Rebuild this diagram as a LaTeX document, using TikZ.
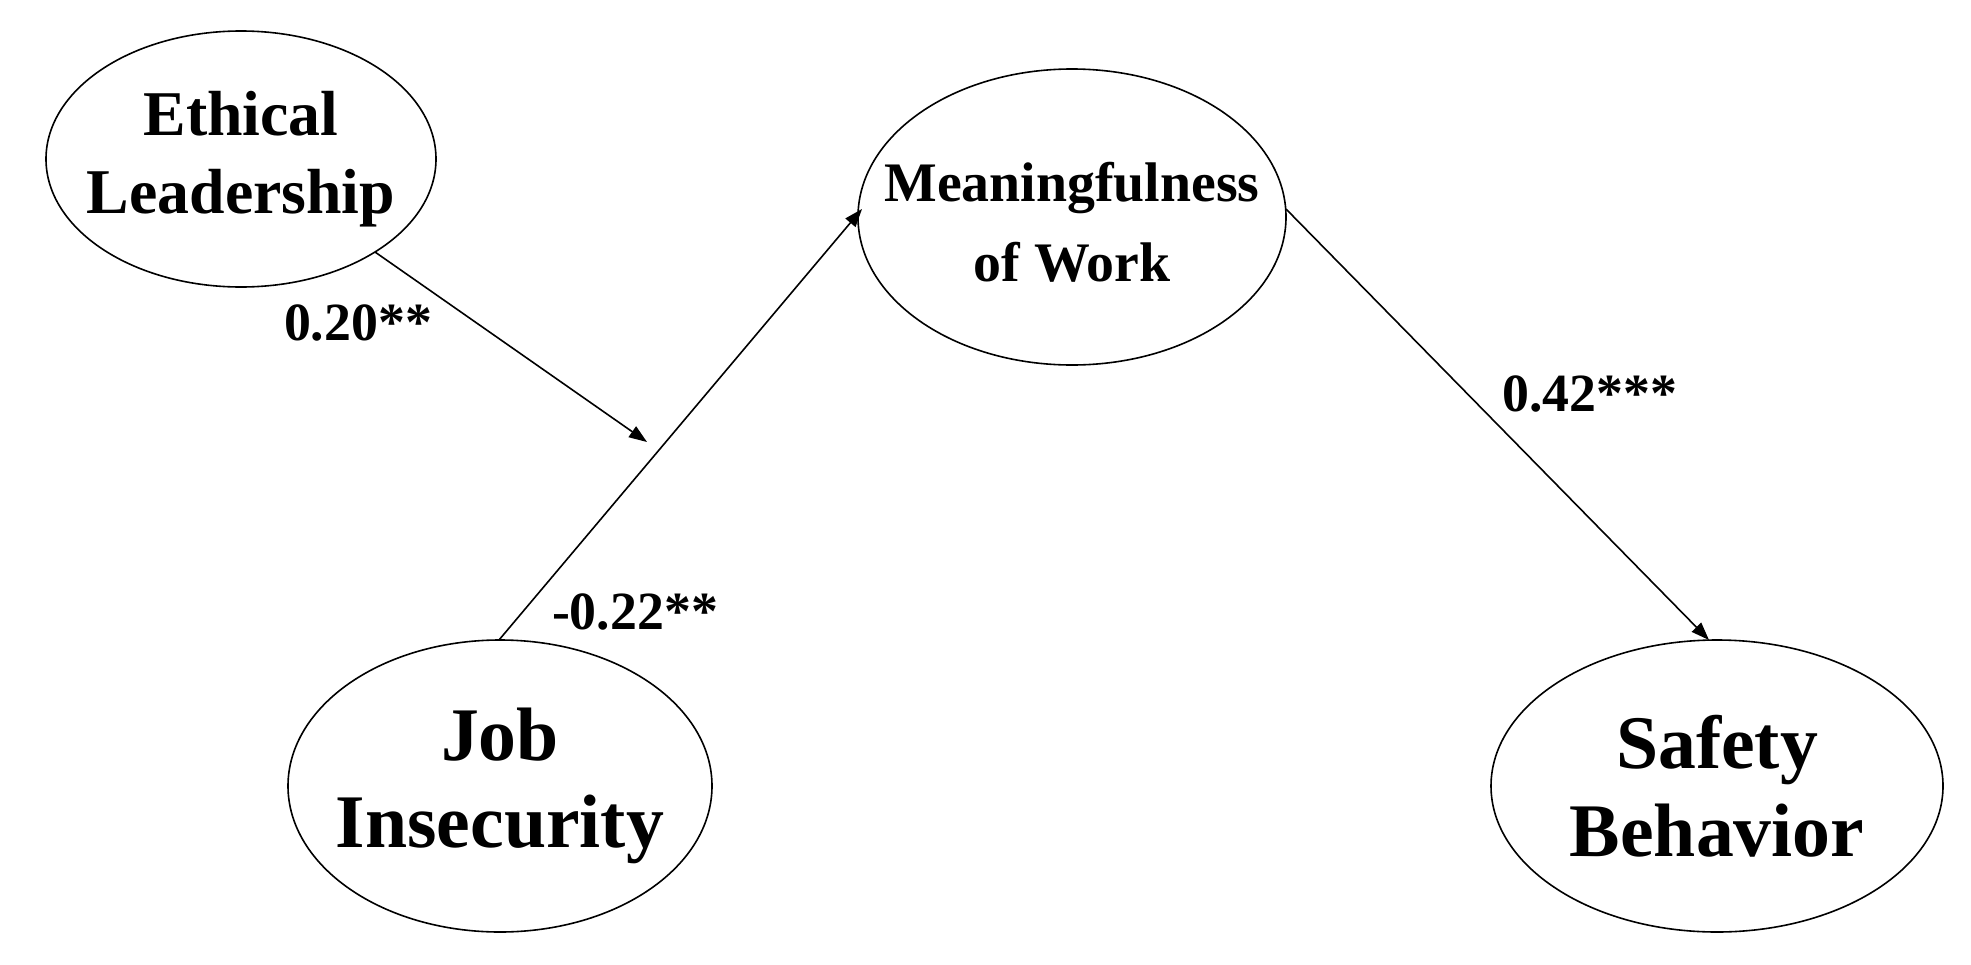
\documentclass[tikz,border=0pt]{standalone}
\usepackage{fontspec}
\setmainfont{Liberation Serif}
\usetikzlibrary{arrows.meta}
\begin{document}
\begin{tikzpicture}[x=1bp,y=-1bp,
  ell/.style={line width=1.6bp},
  path/.style={line width=1.6bp,-{Triangle[length=18bp,width=13bp]}},
  lab/.style={font=\bfseries\fontsize{54}{54}\selectfont}]
\useasboundingbox (0,0) rectangle (1971,965);
\draw[ell] (241,159) ellipse [x radius=195,y radius=128];
\node[font=\bfseries\fontsize{64}{78}\selectfont,align=center] (el) at (241,159) {Ethical\\Leadership};
\draw[ell] (1072,217) ellipse [x radius=214,y radius=148];
\node[font=\bfseries\fontsize{56}{80}\selectfont,align=center] (mw) at (1072,222) {Meaningfulness\\of Work};
\draw[ell] (500,786) ellipse [x radius=212,y radius=146];
\node[font=\bfseries\fontsize{76}{88}\selectfont,align=center] (ji) at (500,786) {Job\\Insecurity};
\draw[ell] (1717,786) ellipse [x radius=226,y radius=146];
\node[font=\bfseries\fontsize{76}{88}\selectfont,align=center] (sb) at (1717,786) {Safety\\Behavior};
\coordinate (a1) at (375,252);
\coordinate (a2) at (647,442);
\coordinate (b1) at (499,640);
\coordinate (b2) at (862,209);
\coordinate (c1) at (1286,209);
\coordinate (c2) at (1709,640);
\draw[path] (a1) -- (a2);
\draw[path] (b1) -- (b2);
\draw[path] (c1) -- (c2);
\node[lab] (l1) at (358,323) {0.20**};
\node[lab] (l2) at (635,612) {-0.22**};
\node[lab] (l3) at (1590,394) {0.42***};
\end{tikzpicture}
\end{document}
